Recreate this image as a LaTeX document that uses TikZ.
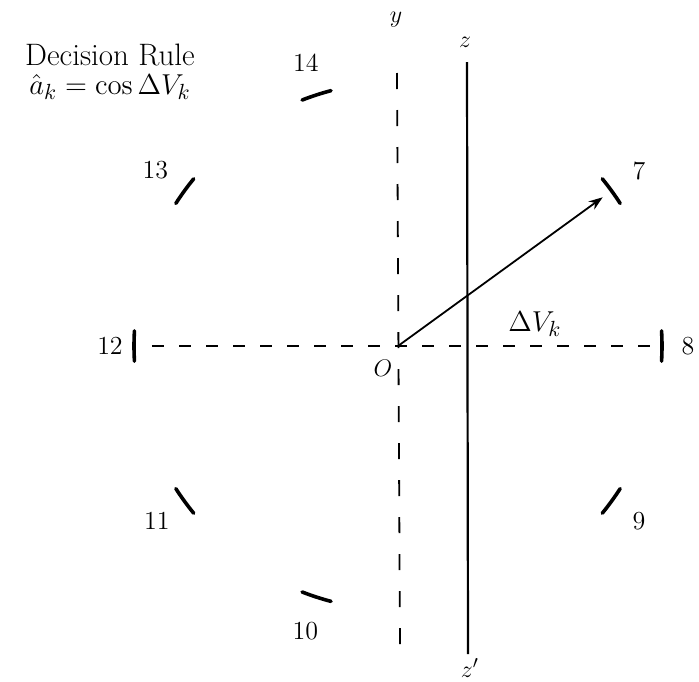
\documentclass[tikz,border=0pt]{standalone}
\usepackage{amsmath,amssymb}
\usepackage{tikz}
\usetikzlibrary{arrows.meta,positioning}

\begin{document}
\begin{tikzpicture}[x=0.5pt,y=0.5pt,font=\fontsize{13}{15}\selectfont,
  clocktick/.style={line width=1.8pt,line cap=round},
  hdash/.style={line width=0.9pt,dash pattern=on 6pt off 7.5pt},
  vdash/.style={line width=0.9pt,dash pattern=on 8pt off 10.5pt},
  bigtext/.style={font=\fontsize{15.5}{18}\selectfont}]
  \useasboundingbox (-398,-335) rectangle (301,346);
  \coordinate (O) at (0,0);
  \coordinate (tip) at (36:253);
  \coordinate (hl) at (-246,0);
  \coordinate (hr) at (262,0);
  \coordinate (yt) at (-1,273);
  \coordinate (yb) at (2,-302);
  \coordinate (zt) at (69,284);
  \coordinate (zb) at (70,-308);
  \draw[hdash] (hl) -- (hr);
  \draw[vdash] (yt) -- (yb);
  \draw[line width=1.1pt] (zt) -- (zb);
  \draw[line width=0.9pt,-{Stealth[length=7pt,width=5pt]}] (O) -- (tip);
  \foreach \a/\v/\r in {36/7/298,0/8/290,-36/9/298,-108/10/300,-144/11/298,180/12/288,144/13/300,108/14/298}{
    \draw[clocktick] ({\a-3.3}:264) arc[start angle={\a-3.3},end angle={\a+3.3},radius=264];
    \node (n\v) at (\a:\r) {\v};
  }
  \node (ylab) at (-2,326) {$y$};
  \node (zlab) at (67,304) {$z$};
  \node (zplab) at (72,-322) {$z'$};
  \node (olab) at (-15,-22) {$O$};
  \node[bigtext] (dvlab) at (137,22) {$\Delta V_k$};
  \node[bigtext] (rule) at (-288,291) {Decision Rule};
  \node[bigtext] (rulef) at (-288,259) {$\hat a_k=\cos\Delta V_k$};
\end{tikzpicture}
\end{document}
